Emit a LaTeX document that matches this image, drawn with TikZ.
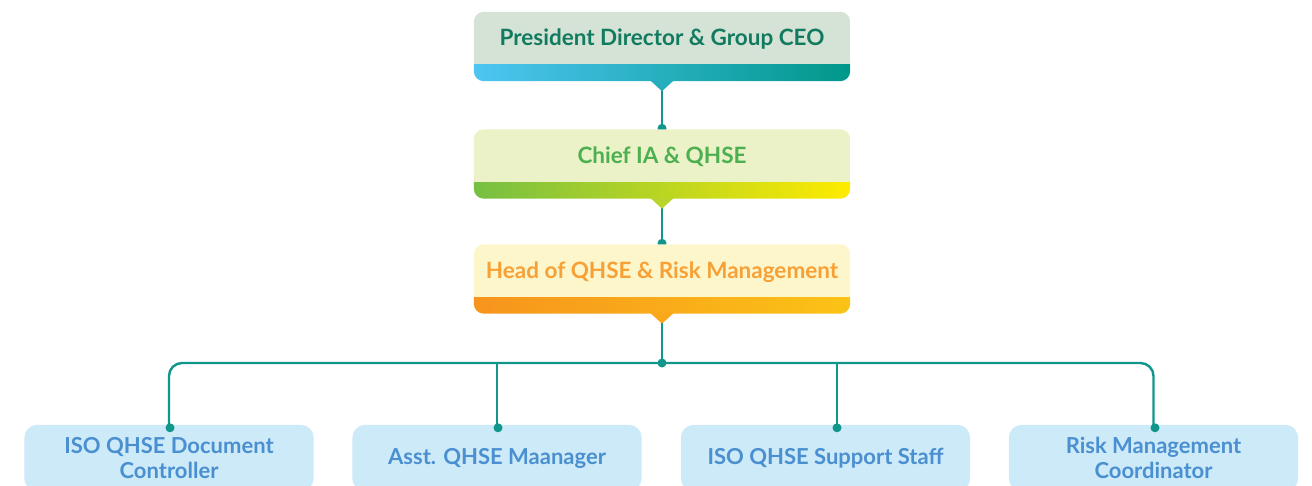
\documentclass[tikz,border=0pt]{standalone}
\usepackage{fontspec}
\setmainfont{Lato}
\usetikzlibrary{calc,backgrounds}
\definecolor{conn}{HTML}{10968A}
\definecolor{ceoL}{HTML}{D5E3D7}
\definecolor{ceoA}{HTML}{4DC6F2}
\definecolor{ceoB}{HTML}{00978A}
\definecolor{ceoM}{HTML}{27AEBE}
\definecolor{ceoT}{HTML}{127B5F}
\definecolor{chL}{HTML}{EBF2C7}
\definecolor{chA}{HTML}{76BF43}
\definecolor{chB}{HTML}{FFEB00}
\definecolor{chM}{HTML}{B9D52C}
\definecolor{chT}{HTML}{4CAF50}
\definecolor{hdL}{HTML}{FEF6CB}
\definecolor{hdA}{HTML}{F7941D}
\definecolor{hdB}{HTML}{FBC316}
\definecolor{hdM}{HTML}{F9A81B}
\definecolor{hdT}{HTML}{F7A035}
\definecolor{stL}{HTML}{CDEAF9}
\definecolor{stT}{HTML}{4A8FD0}
\newcommand{\topbox}[5]{%
  \begin{scope}
    \clip[rounded corners=10pt] (#1.north west) rectangle ($(#1.south east)+(0,17)$);
    \shade[left color=#3,right color=#4] ($(#1.south west)+(-1,-1)$) rectangle ($(#1.south east)+(1,18)$);
    \fill[#2] ($(#1.north west)+(-1,-1)$) rectangle (#1.south east);
  \end{scope}
  \fill[#5] ($(#1.south)+(-12,16)$) -- ($(#1.south)+(0,27)$) -- ($(#1.south)+(12,16)$) -- cycle;
}
\tikzset{
  lead/.style={minimum width=376pt, minimum height=52pt, inner sep=0pt,
    text height=16pt, text depth=0pt,
    font=\fontsize{22.5}{26}\selectfont\bfseries},
  staff/.style={minimum width=289pt, minimum height=66pt, inner sep=0pt,
    text=stT, align=center, font=\fontsize{22}{25}\selectfont\bfseries},
  link/.style={draw=conn, line width=2.4pt},
  dot/.style={circle, fill=conn, inner sep=0pt, minimum size=9pt},
}
\begin{document}
\begin{tikzpicture}[x=1pt,y=-1pt]
\useasboundingbox (0,0) rectangle (1312,486);
\node[lead, text=ceoT] (ceo) at (662,38) {President Director \& Group CEO};
\node[lead, text=chT] (chief) at (662,155.5) {Chief IA \& QHSE};
\node[lead, text=hdT] (head) at (662,270.5) {Head of QHSE \& Risk Management};
\node[staff] (doc) at (169,458) {ISO QHSE Document\\Controller};
\node[staff] (asst) at (497,458) {Asst. QHSE Maanager};
\node[staff] (supp) at (825.5,458) {ISO QHSE Support Staff};
\node[staff] (rmc) at (1153.5,458) {Risk Management\\Coordinator};
\coordinate (hub) at (662,363);
\coordinate (suppin) at ($(supp.north)+(11.5,0)$);
\begin{pgfonlayer}{background}
  \path[link] ($(ceo.south)+(0,26)$) -- (chief.north);
  \node[dot] (d1) at ($(chief.north)+(0,-1)$) {};
  \path[link] ($(chief.south)+(0,26)$) -- (head.north);
  \node[dot] (d2) at ($(head.north)+(0,-1)$) {};
  \topbox{ceo}{ceoL}{ceoA}{ceoB}{ceoM}
  \topbox{chief}{chL}{chA}{chB}{chM}
  \topbox{head}{hdL}{hdA}{hdB}{hdM}
  \foreach \n in {doc,asst,supp,rmc}
    \fill[stL, rounded corners=13pt] (\n.north west) rectangle (\n.south east);
\end{pgfonlayer}
\path[link] ($(head.south)+(0,26)$) -- (hub);
\path[link, rounded corners=13pt] (doc.north) |- (hub) -| (rmc.north);
\path[link] (asst.north) |- (hub);
\path[link] (suppin) |- (hub);
\node[dot] at (hub) {};
\node[dot] at ($(doc.north)+(1,3)$) {};
\node[dot] at ($(asst.north)+(1,3)$) {};
\node[dot] at ($(suppin)+(0,3)$) {};
\node[dot] at ($(rmc.north)+(1.5,3)$) {};
\end{tikzpicture}
\end{document}
